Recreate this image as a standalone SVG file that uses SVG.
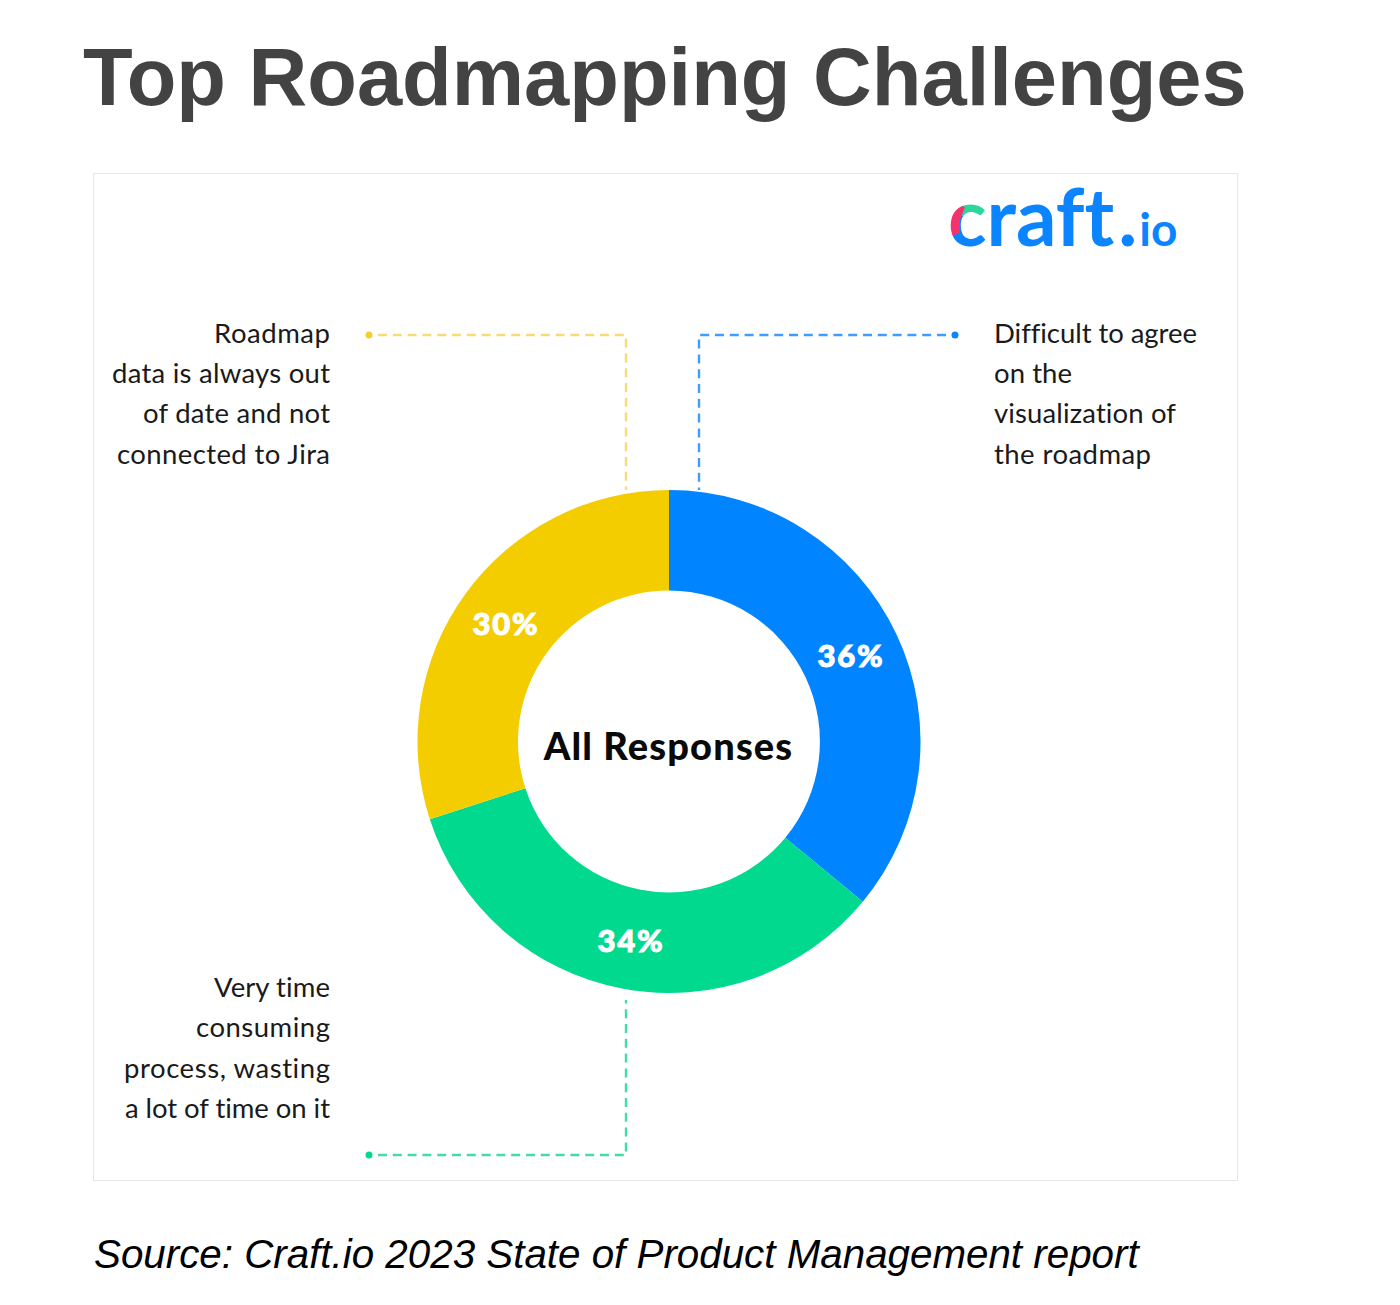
<svg xmlns="http://www.w3.org/2000/svg" width="1400" height="1305" viewBox="0 0 1400 1305">
<style>
text{font-family:"Lato","Liberation Sans",sans-serif;font-variant-ligatures:none}
.title{font-family:"Liberation Sans",Arial,sans-serif;font-weight:700;font-size:81.3px;fill:#434343}
.source{font-family:"Liberation Sans",Arial,sans-serif;font-style:italic;font-size:40.35px;fill:#000}
.label{font-size:27.5px;fill:#1a1a1a}
.end{text-anchor:end}
.pct{font-size:31px;font-weight:900;fill:#fff;stroke:#fff;stroke-width:1;text-anchor:middle;letter-spacing:1.8px}
.center{font-size:38px;font-weight:900;fill:#0a0a0a;text-anchor:middle;letter-spacing:1.15px}
.conn{fill:none;stroke-width:2.4;stroke-dasharray:9 5.8}
</style>
<defs>
<pattern id="logoC" patternUnits="userSpaceOnUse" x="940" y="190" width="60" height="70">
<rect width="60" height="70" fill="#0a84ff"/>
<rect x="0" y="0" width="60" height="26" fill="#2ed69a"/>
<polygon points="0,10 25,17 20,30 20,43 0,50" fill="#f2336e"/>
</pattern>
</defs>
<rect width="1400" height="1305" fill="#fff"/>
<text class="title" x="83" y="105">Top Roadmapping Challenges</text>
<rect id="frame" x="93.500" y="173.500" width="1144" height="1007" fill="#fff" stroke="#e6e6e6" stroke-width="1"/>
<g id="logo"><text x="948" y="246" font-size="80" font-weight="700" fill="#0a84ff"><tspan fill="url(#logoC)">c</tspan>raft<tspan dx="4">.</tspan><tspan font-size="46" dx="2">io</tspan></text></g>
<g id="connectors">
<path class="conn" stroke="#f7dc75" d="M378 335H626V490"/>
<circle cx="369" cy="335" r="3.500" fill="#f5cf2e"/>
<path class="conn" stroke="#3f9dff" d="M946 335H699V490"/>
<circle cx="955" cy="335" r="3.500" fill="#0a84ff"/>
<path class="conn" stroke="#3fdea5" d="M378 1155H626V1000"/>
<circle cx="369" cy="1155" r="3.500" fill="#00d98e"/>
</g>
<g id="seg-blue"><path fill="#0084ff" d="M669 490A251.500 251.500 0 0 1 862.800 901.800L785.300 837.700A151 151 0 0 0 669 590.500Z"/><text class="pct" x="851" y="667">36%</text></g>
<g id="seg-green"><path fill="#00d98e" d="M862.800 901.800A251.500 251.500 0 0 1 429.800 819.200L525.400 788.200A151 151 0 0 0 785.300 837.700Z"/><text class="pct" x="631" y="952">34%</text></g>
<g id="seg-yellow"><path fill="#f4cd00" d="M429.800 819.200A251.500 251.500 0 0 1 669 490V590.500A151 151 0 0 0 525.400 788.200Z"/><text class="pct" x="506" y="635">30%</text></g>
<g id="center"><text class="center" x="668.500" y="760">All Responses</text></g>
<g id="label-yellow"><text class="label end" x="330" y="343" textLength="116">Roadmap</text><text class="label end" x="330" y="383" textLength="218">data is always out</text><text class="label end" x="330" y="423" textLength="187">of date and not</text><text class="label end" x="330" y="464" textLength="213">connected to Jira</text></g>
<g id="label-blue"><text class="label" x="994" y="343" textLength="203">Difficult to agree</text><text class="label" x="994" y="383" textLength="78">on the</text><text class="label" x="994" y="423" textLength="182">visualization of</text><text class="label" x="994" y="464" textLength="157">the roadmap</text></g>
<g id="label-green"><text class="label end" x="330" y="997" textLength="116">Very time</text><text class="label end" x="330" y="1037" textLength="134">consuming</text><text class="label end" x="330" y="1078" textLength="206">process, wasting</text><text class="label end" x="330" y="1118" textLength="205">a lot of time on it</text></g>
<text class="source" x="94" y="1268">Source: Craft.io 2023 State of Product Management report</text>
</svg>
